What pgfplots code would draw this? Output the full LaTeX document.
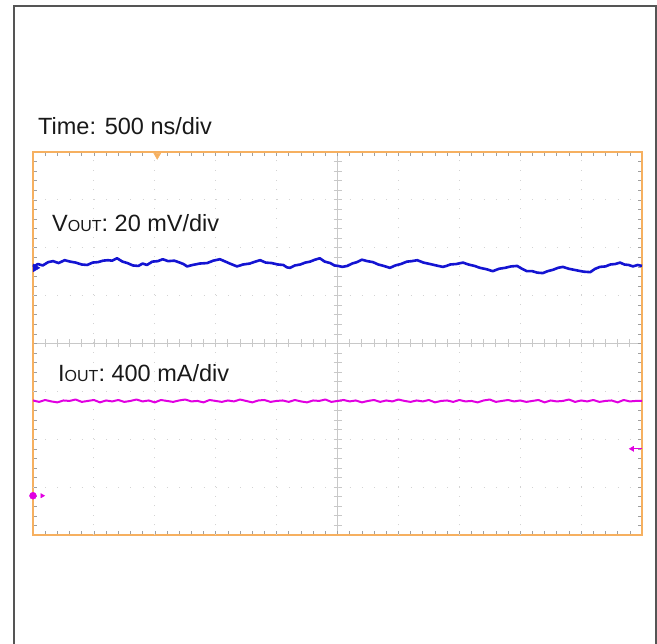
\documentclass[border=0pt]{standalone}
\usepackage{pgfplots}
\pgfplotsset{compat=1.18}
\usepackage{fontspec}
\setmainfont{Liberation Sans}
\definecolor{scopeorange}{RGB}{246,176,96}
\definecolor{gridgray}{RGB}{200,200,200}
\definecolor{trblue}{RGB}{20,20,210}
\definecolor{trmag}{RGB}{225,0,225}
\definecolor{framegray}{RGB}{85,85,85}
\pgfplotstableread{
x y
-5.00 1.60
-4.92 1.66
-4.84 1.63
-4.75 1.70
-4.67 1.72
-4.58 1.68
-4.48 1.74
-4.39 1.71
-4.30 1.69
-4.20 1.65
-4.11 1.64
-4.02 1.69
-3.93 1.70
-3.85 1.73
-3.77 1.74
-3.70 1.73
-3.62 1.78
-3.53 1.71
-3.45 1.68
-3.36 1.63
-3.27 1.62
-3.20 1.67
-3.13 1.64
-3.04 1.71
-2.95 1.72
-2.87 1.76
-2.78 1.72
-2.68 1.73
-2.59 1.69
-2.53 1.66
-2.47 1.61
-2.38 1.64
-2.26 1.67
-2.14 1.68
-2.04 1.73
-1.93 1.76
-1.84 1.71
-1.75 1.66
-1.65 1.61
-1.55 1.65
-1.44 1.67
-1.35 1.71
-1.27 1.74
-1.18 1.69
-1.08 1.68
-0.98 1.65
-0.89 1.64
-0.83 1.59
-0.78 1.58
-0.70 1.63
-0.61 1.65
-0.53 1.69
-0.45 1.71
-0.37 1.75
-0.29 1.78
-0.21 1.71
-0.12 1.68
-0.05 1.63
0.01 1.62
0.08 1.60
0.16 1.62
0.24 1.67
0.32 1.70
0.40 1.75
0.49 1.72
0.58 1.70
0.67 1.65
0.76 1.62
0.86 1.58
0.95 1.63
1.04 1.66
1.14 1.71
1.22 1.72
1.31 1.74
1.41 1.69
1.52 1.66
1.62 1.63
1.73 1.60
1.79 1.62
1.85 1.65
1.95 1.66
2.06 1.69
2.15 1.65
2.25 1.62
2.34 1.58
2.45 1.55
2.55 1.51
2.65 1.56
2.75 1.58
2.85 1.61
2.95 1.62
3.03 1.56
3.11 1.51
3.20 1.51
3.28 1.48
3.37 1.47
3.45 1.51
3.54 1.54
3.62 1.58
3.70 1.60
3.80 1.56
3.92 1.53
4.04 1.50
4.15 1.49
4.23 1.56
4.31 1.60
4.40 1.61
4.48 1.65
4.56 1.66
4.64 1.69
4.71 1.65
4.78 1.64
4.85 1.61
4.93 1.64
5.00 1.62
}\vout
\pgfplotstableread{
x y
-5.0 -1.19
-4.9 -1.22
-4.8 -1.18
-4.7 -1.21
-4.6 -1.23
-4.5 -1.19
-4.4 -1.20
-4.3 -1.17
-4.2 -1.22
-4.1 -1.20
-4.0 -1.18
-3.9 -1.23
-3.8 -1.19
-3.7 -1.21
-3.6 -1.18
-3.5 -1.22
-3.4 -1.20
-3.3 -1.17
-3.2 -1.21
-3.1 -1.19
-3.0 -1.23
-2.9 -1.18
-2.8 -1.20
-2.7 -1.22
-2.6 -1.19
-2.5 -1.17
-2.4 -1.21
-2.3 -1.20
-2.2 -1.23
-2.1 -1.18
-2.0 -1.20
-1.9 -1.22
-1.8 -1.19
-1.7 -1.21
-1.6 -1.17
-1.5 -1.20
-1.4 -1.23
-1.3 -1.19
-1.2 -1.18
-1.1 -1.22
-1.0 -1.20
-0.9 -1.19
-0.8 -1.22
-0.7 -1.18
-0.6 -1.21
-0.5 -1.23
-0.4 -1.19
-0.3 -1.20
-0.2 -1.17
-0.1 -1.22
0.0 -1.20
0.1 -1.18
0.2 -1.21
0.3 -1.19
0.4 -1.23
0.5 -1.20
0.6 -1.18
0.7 -1.22
0.8 -1.19
0.9 -1.21
1.0 -1.17
1.1 -1.20
1.2 -1.22
1.3 -1.19
1.4 -1.21
1.5 -1.18
1.6 -1.23
1.7 -1.20
1.8 -1.19
1.9 -1.22
2.0 -1.18
2.1 -1.21
2.2 -1.20
2.3 -1.23
2.4 -1.19
2.5 -1.17
2.6 -1.22
2.7 -1.20
2.8 -1.18
2.9 -1.21
3.0 -1.19
3.1 -1.22
3.2 -1.20
3.3 -1.18
3.4 -1.23
3.5 -1.19
3.6 -1.21
3.7 -1.20
3.8 -1.17
3.9 -1.22
4.0 -1.19
4.1 -1.21
4.2 -1.18
4.3 -1.22
4.4 -1.20
4.5 -1.19
4.6 -1.23
4.7 -1.18
4.8 -1.21
4.9 -1.20
5.0 -1.20
}\iout
\begin{document}
\begin{tikzpicture}[x=1bp,y=1bp]
\useasboundingbox (0,0) rectangle (657,644);
\draw[framegray, line width=2bp] (14,-3) -- (14,638) -- (656,638) -- (656,-3);
% centre cross with ticks
\begin{axis}[at={(33bp,109bp)}, anchor=south west, scale only axis,
  width=609bp, height=383bp,
  xmin=-5, xmax=5, ymin=-4, ymax=4,
  axis lines=middle, axis line style={gridgray, line width=0.9bp, -},
  xtick={-4.8,-4.6,...,4.9}, ytick={-3.8,-3.6,...,3.9},
  xticklabels={}, yticklabels={},
  tick align=center, major tick length=8bp,
  tick style={gridgray, line width=0.8bp}]
\end{axis}
\begin{axis}[at={(33bp,109bp)}, anchor=south west, scale only axis,
  width=609bp, height=383bp,
  xmin=-5, xmax=5, ymin=-4, ymax=4,
  xtick={-4.8,-4.6,...,4.9}, ytick={-3.8,-3.6,...,3.9},
  xticklabels={}, yticklabels={},
  tick align=inside, major tick length=4bp,
  tick style={gray!75, line width=0.6bp},
  axis line style={scopeorange, line width=2.6bp},
  extra x ticks={-4,-3,-2,-1,1,2,3,4}, extra y ticks={-3,-2,-1,1,2,3},
  extra x tick labels={}, extra y tick labels={},
  extra x tick style={grid=major, major tick length=0pt,
    major grid style={gridgray!80, line width=1bp, dash pattern=on 1bp off 8.58bp}},
  extra y tick style={grid=major, major tick length=0pt,
    major grid style={gridgray!80, line width=1bp, dash pattern=on 1bp off 11.18bp}},
  clip=false]
\addplot[trmag, line width=2bp, mark=none, line join=round] table[x=x, y=y] {\iout};
\addplot[trblue, line width=2.6bp, mark=none, line join=round] table[x=x, y=y] {\vout};
% channel / trigger markers
\addplot[only marks, mark=triangle*, mark size=4.5bp, color=trblue, mark options={rotate=-90}] coordinates {(-4.96,1.58)};
\addplot[only marks, mark=*, mark size=3.5bp, color=trmag] coordinates {(-5.0,-3.18)};
\addplot[only marks, mark=triangle*, mark size=2.5bp, color=trmag, mark options={rotate=-90}] coordinates {(-4.85,-3.18)};
\addplot[trmag, line width=1bp, mark=none] coordinates {(4.86,-2.20) (5.0,-2.20)};
\addplot[only marks, mark=triangle*, mark size=3bp, color=trmag, mark options={rotate=90}] coordinates {(4.84,-2.20)};
\addplot[only marks, mark=triangle*, mark size=4bp, color=scopeorange, mark options={rotate=180}] coordinates {(-2.96,3.93)};
\end{axis}
\node[anchor=base west, inner sep=0pt, text=black!90, font=\fontsize{23.5bp}{28bp}\selectfont] at (38,509) {Time: 500 ns/div};
\node[anchor=base west, inner sep=0pt, text=black!90, font=\fontsize{23.5bp}{28bp}\selectfont] at (52,412) {V{\fontsize{16bp}{18bp}\selectfont OUT}: 20 mV/div};
\node[anchor=base west, inner sep=0pt, text=black!90, font=\fontsize{23.5bp}{28bp}\selectfont] at (58,262) {I{\fontsize{16bp}{18bp}\selectfont OUT}: 400 mA/div};
\end{tikzpicture}
\end{document}
